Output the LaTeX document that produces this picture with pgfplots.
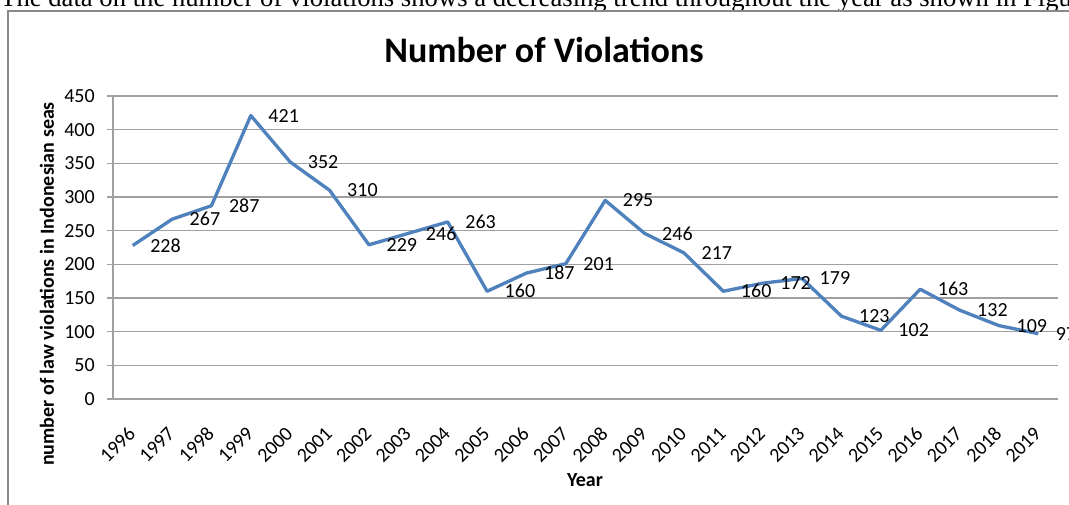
\documentclass[border=0pt]{standalone}
\usepackage{fontspec}
\setmainfont{Carlito}
\newfontfamily\timesfont{Liberation Serif}
\usepackage{pgfplots}
\pgfplotsset{compat=1.18}

\definecolor{linecol}{RGB}{79,129,189}
\definecolor{axcol}{RGB}{160,160,160}
\definecolor{framecol}{RGB}{136,136,136}

\pgfplotstableread{
x y
0 228
1 267
2 287
3 421
4 352
5 310
6 229
7 246
8 263
9 160
10 187
11 201
12 295
13 246
14 217
15 160
16 172
17 179
18 123
19 102
20 163
21 132
22 109
23 97
}\violations

\begin{document}
\begin{tikzpicture}[x=0.75pt,y=0.75pt]
% page = 1069 x 504 px, 1px = 0.75pt
\path[use as bounding box, clip] (0,0) rectangle (1069,504);

% cut-off line of body text above the figure
\node[anchor=base west, inner sep=0pt, font=\timesfont\fontsize{20}{20}\selectfont]
  at (0,497) {The data on the number of violations shows a decreasing trend throughout the year as shown in Figure 2.};

% chart frame (only left and top visible)
\draw[framecol, line width=1.5pt] (8,-20) -- (8,492.5) -- (1100,492.5);

\begin{axis}[
  at={(84.75pt,78.75pt)}, anchor=south west,
  scale only axis,
  width=708.75pt, height=227.25pt,
  xmin=-0.5, xmax=23.5,
  ymin=0, ymax=450,
  axis x line*=bottom, axis y line*=left,
  axis line style={axcol, line width=0.9pt, -},
  xtick=data,
  xticklabels={1996,1997,1998,1999,2000,2001,2002,2003,2004,2005,2006,2007,2008,2009,2010,2011,2012,2013,2014,2015,2016,2017,2018,2019},
  ytick={0,50,...,450},
  xtick style={draw=none},
  ytick style={axcol, line width=0.9pt},
  tick align=outside,
  major tick length=4.5pt,
  ymajorgrids,
  grid style={axcol, line width=0.9pt},
  /pgf/number format/assume math mode=true,
  tick label style={font=\fontsize{15}{15}\selectfont, text=black},
  yticklabel style={anchor=east, inner sep=0pt, xshift=-9pt},
  xticklabel style={anchor=east, inner sep=0pt, xshift=-0.5pt, yshift=-19pt, rotate=45},
  nodes near coords,
  every node near coord/.append style={anchor=west, xshift=12pt, inner sep=0pt,
    text=black, font=\fontsize{15}{15}\selectfont},
  clip=false,
]
\addplot[linecol, line width=2.5pt, line join=round, mark=none] table[x=x, y=y] {\violations};
\end{axis}

\node[font=\bfseries\fontsize{27}{27}\selectfont, inner sep=0pt] at (544,454) {Number of Violations};
\node[font=\bfseries\fontsize{15}{15}\selectfont, inner sep=0pt, rotate=90] at (47,220) {number of law violations in Indonesian seas};
\node[font=\bfseries\fontsize{15}{15}\selectfont, inner sep=0pt] at (585,24) {Year};
\end{tikzpicture}
\end{document}
